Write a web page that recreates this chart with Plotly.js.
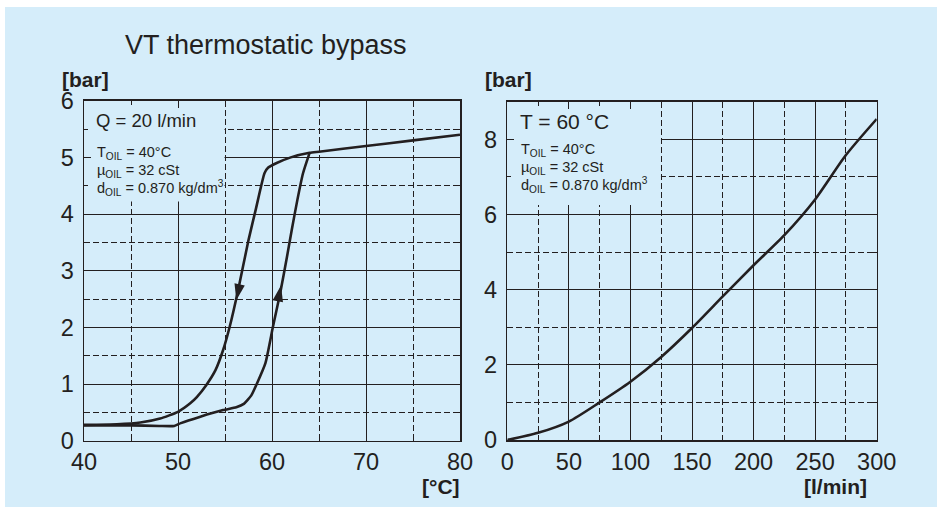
<!DOCTYPE html>
<html>
<head>
<meta charset="utf-8">
<script src="https://cdn.plot.ly/plotly-3.0.1.min.js"></script>
<style>html,body{margin:0;padding:0;background:#fff;}#chart{width:937px;height:507px;}</style>
</head>
<body>
<div id="chart"></div>
<script>
// ---- Data ----
// Left chart: pressure vs temperature at Q = 20 l/min (hysteresis loop)
const coolingTemp = [80, 75, 70, 65, 64, 62, 60.5, 59.6, 59.2, 58.3, 57.5, 56.4, 55.5, 54.8, 54.0, 53.0, 52.0, 51.3, 50.0, 48.1, 46.0, 43.5, 40];
const coolingBar  = [5.40, 5.30, 5.20, 5.10, 5.08, 5.00, 4.90, 4.82, 4.72, 4.10, 3.54, 2.66, 2.01, 1.60, 1.25, 0.98, 0.77, 0.66, 0.51, 0.39, 0.32, 0.29, 0.28];
const heatingTemp = [40, 45, 48, 49.6, 50.3, 52.3, 54.8, 56.2, 57.0, 57.8, 58.4, 59.3, 60.1, 60.9, 61.6, 62.1, 62.7, 63.3, 64.0];
const heatingBar  = [0.27, 0.27, 0.26, 0.26, 0.31, 0.42, 0.54, 0.59, 0.65, 0.80, 1.01, 1.37, 2.01, 2.63, 3.25, 3.72, 4.25, 4.72, 5.08];
// Direction arrows on the loop
const arrowDownTemp = [56.2], arrowDownBar = [2.48];
const arrowUpTemp   = [60.95], arrowUpBar  = [2.74];
// Right chart: pressure vs flow at T = 60 °C
const flowLmin = [0, 25, 50, 75, 100, 125, 150, 175, 200, 225, 250, 275, 300];
const flowBar  = [0, 0.19, 0.49, 1.00, 1.55, 2.21, 2.98, 3.82, 4.65, 5.45, 6.40, 7.58, 8.54];

// ---- Style ----
const W = 937, H = 507;
const INK = '#231f20';
const BG = '#d5edfa';
const FONT = 'Liberation Sans, Arial, Helvetica, sans-serif';
const px = v => v / W;
const py = v => 1 - v / H;

function axis(extra) {
  return Object.assign({
    showgrid: true, gridcolor: INK, gridwidth: 1,
    showline: true, linecolor: INK, linewidth: 1.5, mirror: 'ticks',
    ticks: 'inside', ticklen: 7, tickwidth: 1, tickcolor: INK,
    tickfont: {family: FONT, size: 23.5, color: INK},
    zeroline: false, fixedrange: true,
  }, extra, {
    minor: Object.assign({
      showgrid: true, gridcolor: INK, gridwidth: 1, griddash: '6px,3px',
      ticks: 'inside', ticklen: 4, tickwidth: 1, tickcolor: INK
    }, extra.minor)
  });
}

const curve = {color: INK, width: 2.6, shape: 'spline', smoothing: 0.5};

const traces = [
  {x: coolingTemp, y: coolingBar, xaxis: 'x', yaxis: 'y', mode: 'lines', line: curve, hoverinfo: 'skip'},
  {x: heatingTemp, y: heatingBar, xaxis: 'x', yaxis: 'y', mode: 'lines', line: curve, hoverinfo: 'skip'},
  {x: arrowDownTemp, y: arrowDownBar, xaxis: 'x', yaxis: 'y', mode: 'markers',
   marker: {symbol: 'arrow', size: 17, angle: 192, color: INK, line: {width: 0}}, hoverinfo: 'skip'},
  {x: arrowUpTemp, y: arrowUpBar, xaxis: 'x', yaxis: 'y', mode: 'markers',
   marker: {symbol: 'arrow', size: 17, angle: 11, color: INK, line: {width: 0}}, hoverinfo: 'skip'},
  {x: flowLmin, y: flowBar, xaxis: 'x2', yaxis: 'y2', mode: 'lines', line: Object.assign({}, curve, {smoothing: 0.7}), hoverinfo: 'skip'}
];

function txt(text, x, y, size, opts) {
  return Object.assign({
    text: text, xref: 'paper', yref: 'paper', x: px(x), y: py(y),
    xanchor: 'center', yanchor: 'middle', showarrow: false,
    font: {family: FONT, size: size, color: INK}
  }, opts || {});
}

const props = ['T<sub>OIL</sub> = 40°C', 'µ<sub>OIL</sub> = 32 cSt', 'd<sub>OIL</sub> = 0.870 kg/dm<sup>3</sup>'];

const annotations = [
  txt('VT thermostatic bypass', 266, 45, 27),
  txt('<b>[bar]</b>', 85, 79, 21),
  txt('<b>[bar]</b>', 508, 79, 21),
  txt('<b>[°C]</b>', 441, 486, 21),
  txt('<b>[l/min]</b>', 835, 486, 21),
  txt('Q = 20 l/min', 94, 120, 18.5, {xanchor: 'left'}),
  txt('T = 60 °C', 518, 121, 21, {xanchor: 'left'}),
];
props.forEach((p, i) => {
  annotations.push(txt(p, 95, 153 + i * 17.5, 14.5, {xanchor: 'left'}));
  annotations.push(txt(p, 519, 150 + i * 17.5, 14.5, {xanchor: 'left'}));
});

const layout = {
  width: W, height: H, autosize: false,
  margin: {l: 0, r: 0, t: 0, b: 0, pad: 0},
  paper_bgcolor: BG, plot_bgcolor: BG,
  showlegend: false,
  xaxis: axis({domain: [px(84), px(460)], range: [40, 80], tick0: 40, dtick: 10, anchor: 'y', ticklabelstandoff: 0, minor: {dtick: 5}}),
  yaxis: axis({domain: [py(440.7), py(100.7)], range: [0, 6], tick0: 0, dtick: 1, anchor: 'x', ticklabelstandoff: 4, minor: {dtick: 0.5}}),
  xaxis2: axis({domain: [px(507.3), px(876.7)], range: [0, 300], tick0: 0, dtick: 50, anchor: 'y2', ticklabelstandoff: 0, minor: {dtick: 25}}),
  yaxis2: axis({domain: [py(440), py(101.7)], range: [0, 9], tick0: 0, dtick: 2, anchor: 'x2', ticklabelstandoff: 4, minor: {dtick: 1}}),
  shapes: [
    {type: 'rect', xref: 'paper', yref: 'paper', x0: 0, x1: 1, y0: py(7), y1: 1, fillcolor: '#ffffff', line: {width: 0}, layer: 'above'},
    {type: 'rect', xref: 'paper', yref: 'paper', x0: 0, x1: px(5), y0: 0, y1: 1, fillcolor: '#ffffff', line: {width: 0}, layer: 'above'},
    {type: 'rect', xref: 'x', yref: 'y', x0: 40, x1: 54.95, y0: 4.22, y1: 6, fillcolor: BG, line: {width: 0}, layer: 'between'},
    {type: 'rect', xref: 'x2', yref: 'y2', x0: 0, x1: 124.8, y0: 6.25, y1: 9, fillcolor: BG, line: {width: 0}, layer: 'between'}
  ],
  annotations: annotations
};

Plotly.newPlot('chart', traces, layout, {staticPlot: true, displayModeBar: false});
</script>
</body>
</html>
